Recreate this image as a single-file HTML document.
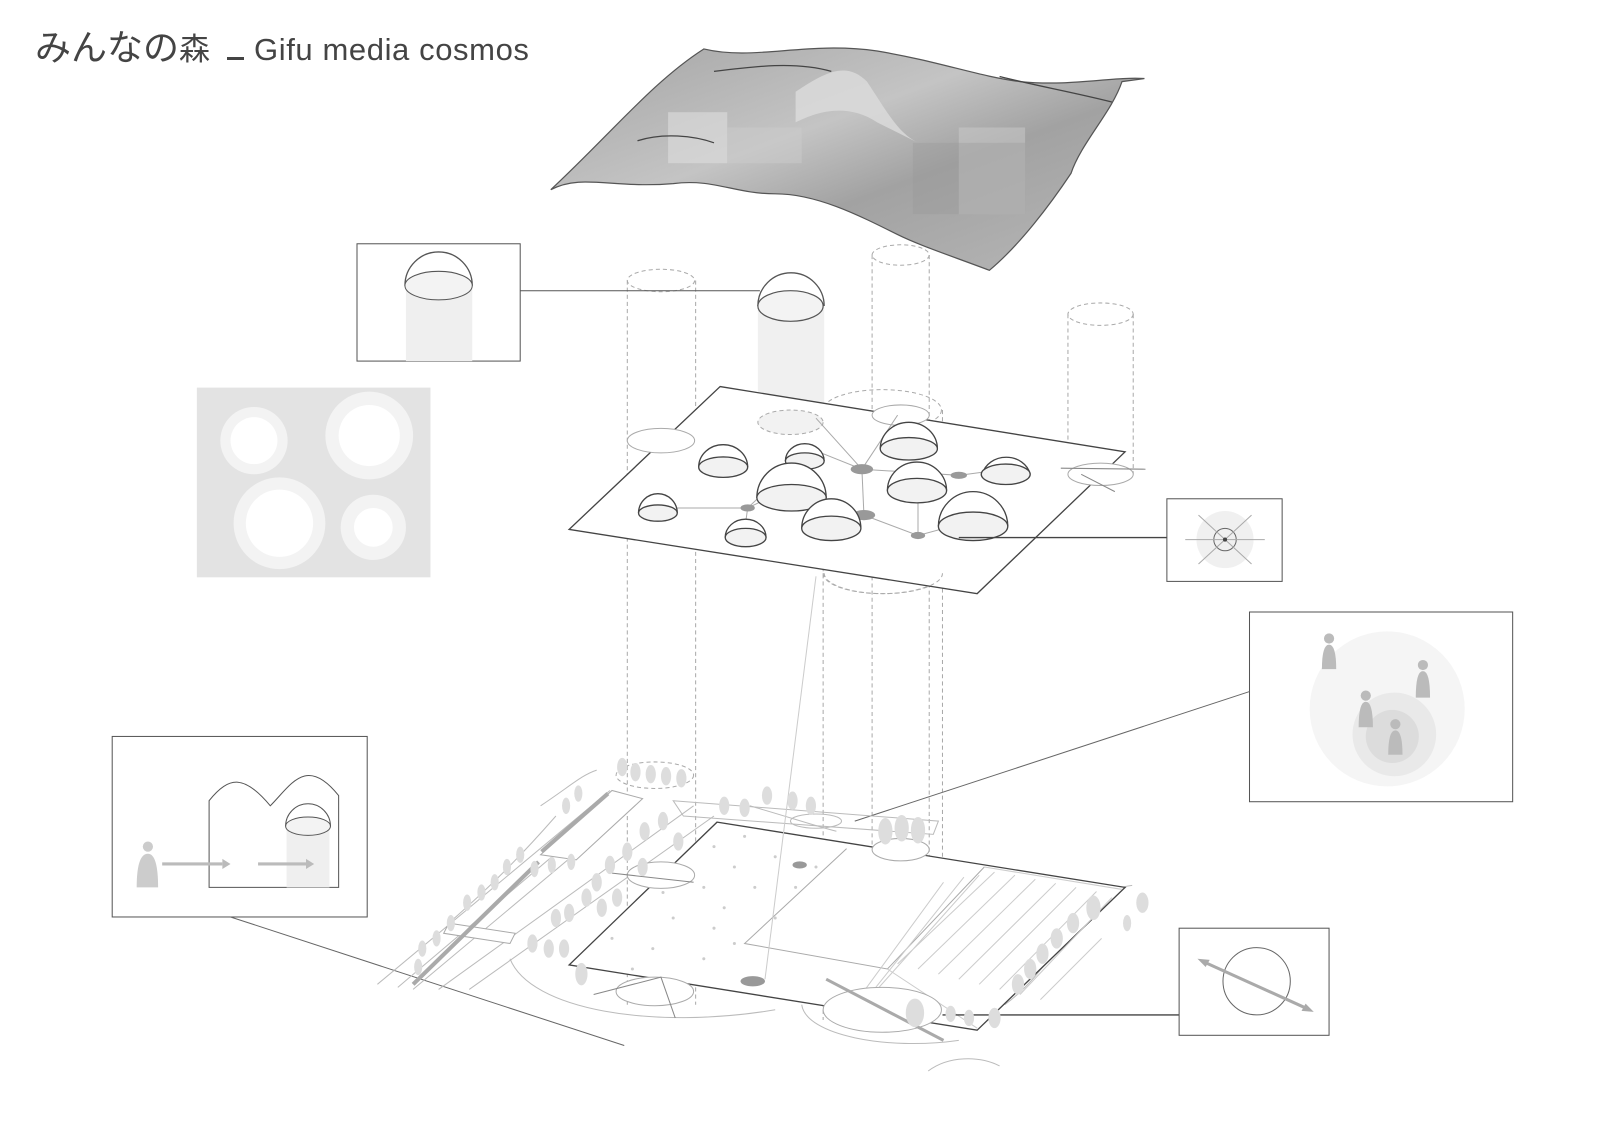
<!DOCTYPE html>
<html><head><meta charset="utf-8"><style>
html,body{margin:0;padding:0;background:#fff;width:1600px;height:1131px;overflow:hidden}
svg{display:block}
</style></head><body>
<svg width="1600" height="1131" viewBox="0 0 1600 1131" xmlns="http://www.w3.org/2000/svg">
<defs>
<linearGradient id="mt" x1="0" y1="0" x2="1" y2="1">
<stop offset="0" stop-color="#a4a4a4"/><stop offset="0.4" stop-color="#c4c4c4"/><stop offset="0.6" stop-color="#a2a2a2"/><stop offset="1" stop-color="#b8b8b8"/>
</linearGradient>
</defs>
<text x="35" y="60" font-family="'Liberation Sans','Noto Sans CJK JP',sans-serif" fill="#444"><tspan font-size="36">みんなの</tspan><tspan font-size="31">森</tspan></text>
<rect x="227" y="57" width="17" height="3" fill="#444"/>
<text x="254" y="60" font-family="'Liberation Sans',sans-serif" font-size="31" letter-spacing="0.6" fill="#444">Gifu media cosmos</text>
<g transform="scale(1.02)">
<path d="M540 186 C600 130 640 80 690 48 C740 60 790 40 860 50 C920 60 960 75 1000 80 C1050 85 1090 75 1122 77 L1100 80 C1090 110 1060 140 1050 170 C1030 200 1000 240 970 265 C930 250 900 240 880 230 C840 210 800 190 760 190 C720 190 700 175 660 180 C600 185 570 170 540 186 Z" fill="url(#mt)" stroke="#555" stroke-width="1.2"/>
<path d="M780 90 C810 70 830 60 850 80 C870 110 880 130 900 140 L860 120 C830 100 800 110 780 120Z" fill="#dcdcdc" opacity="0.8"/>
<rect x="655" y="110" width="58" height="50" fill="#ddd" opacity="0.6"/>
<rect x="713" y="125" width="73" height="35" fill="#ccc" opacity="0.5"/>
<rect x="940" y="125" width="65" height="85" fill="#ccc" opacity="0.5"/>
<rect x="895" y="140" width="110" height="70" fill="#999" opacity="0.35"/>
<path d="M700 70 C740 65 780 60 815 70 M980 75 C1020 85 1050 90 1090 100 M625 138 C650 130 680 133 700 140" stroke="#444" fill="none" stroke-width="1.2"/>

<g stroke="#aaa" stroke-dasharray="4 3" fill="none" stroke-width="1">
<ellipse cx="648" cy="275" rx="33" ry="11"/><line x1="615" y1="275" x2="615" y2="985"/><line x1="682" y1="275" x2="682" y2="985"/>
<ellipse cx="883" cy="250" rx="28" ry="10"/><line x1="855" y1="250" x2="855" y2="1000"/><line x1="911" y1="250" x2="911" y2="1000"/>
<ellipse cx="1079" cy="308" rx="32" ry="11"/><line x1="1047" y1="308" x2="1047" y2="465"/><line x1="1111" y1="308" x2="1111" y2="465"/>
<ellipse cx="865" cy="402" rx="58" ry="20"/><line x1="807" y1="402" x2="807" y2="1000"/><line x1="924" y1="402" x2="924" y2="1000"/>
<ellipse cx="865" cy="562" rx="58" ry="20"/>
<ellipse cx="642" cy="760" rx="38" ry="13"/>
<ellipse cx="775" cy="395" rx="32" ry="12"/>
</g>

<rect x="743" y="297" width="65" height="125" fill="#f0f0f0"/>
<path d="M743 300 A32 32 0 0 1 808 300" fill="#fff" stroke="#555" stroke-width="1.3"/>
<ellipse cx="775" cy="300" rx="32" ry="15" fill="#f3f3f3" stroke="#555" stroke-width="1.2"/>
<line x1="510" y1="285" x2="745" y2="285" stroke="#555"/>

<rect x="350" y="239" width="160" height="115" fill="#fff" stroke="#555"/>
<rect x="398" y="282" width="65" height="72" fill="#efefef"/>
<path d="M397 280 A33 33 0 0 1 463 280" fill="#fff" stroke="#555" stroke-width="1.3"/>
<ellipse cx="430" cy="280" rx="33" ry="14" fill="#f3f3f3" stroke="#555"/>

<rect x="193" y="380" width="229" height="186" fill="#e3e3e3"/>
<circle cx="249" cy="432" r="33" fill="#f3f3f3"/><circle cx="249" cy="432" r="23" fill="#fff"/>
<circle cx="362" cy="427" r="43" fill="#f3f3f3"/><circle cx="362" cy="427" r="30" fill="#fff"/>
<circle cx="274" cy="513" r="45" fill="#f3f3f3"/><circle cx="274" cy="513" r="33" fill="#fff"/>
<circle cx="366" cy="517" r="32" fill="#f3f3f3"/><circle cx="366" cy="517" r="19" fill="#fff"/>

<path d="M706 379 L1103 443 L958 582 L558 519 Z" fill="#fff" stroke="#444" stroke-width="1.3"/>
<ellipse cx="648" cy="432" rx="33" ry="12" fill="#fff" stroke="#aaa"/>
<ellipse cx="883" cy="407" rx="28" ry="10" fill="#fff" stroke="#aaa"/>
<ellipse cx="1079" cy="465" rx="32" ry="11" fill="#fff" stroke="#aaa"/>
<line x1="1040" y1="459" x2="1123" y2="460" stroke="#888"/><line x1="1060" y1="465" x2="1093" y2="482" stroke="#888"/>
<path d="M808 562 A58 20 0 0 0 924 562" fill="none" stroke="#aaa" stroke-dasharray="4 3"/>
<ellipse cx="775" cy="414" rx="32" ry="12" fill="#f2f2f2" stroke="#aaa" stroke-dasharray="4 3"/>
<g stroke="#aaa" fill="none">
<path d="M645 498 L733 498 L795 440 L845 460 L940 466 M733 498 L775 478 M733 498 L730 520 M845 460 L847 505 L900 525 L955 510 M845 460 L800 410 M845 460 L880 407 M940 466 L985 460 M847 505 L815 510 M900 525 L900 480"/>
</g>
<g fill="#999">
<ellipse cx="845" cy="460" rx="11" ry="5"/><ellipse cx="847" cy="505" rx="11" ry="5"/><ellipse cx="733" cy="498" rx="7" ry="3.5"/><ellipse cx="940" cy="466" rx="8" ry="3.5"/><ellipse cx="900" cy="525" rx="7" ry="3.5"/><ellipse cx="793" cy="440" rx="8" ry="3.5"/>
</g>
<g stroke="#444" stroke-width="1.3" fill="#fff">
<path d="M685 458 A24 22 0 0 1 733 458"/><ellipse cx="709" cy="458" rx="24" ry="10" fill="#f2f2f2"/>
<path d="M770 452 A19 17 0 0 1 808 452"/><ellipse cx="789" cy="452" rx="19" ry="8" fill="#f2f2f2"/>
<path d="M742 488 A34 34 0 0 1 810 488"/><ellipse cx="776" cy="488" rx="34" ry="13" fill="#f2f2f2"/>
<path d="M863 440 A28 26 0 0 1 919 440"/><ellipse cx="891" cy="440" rx="28" ry="11" fill="#f2f2f2"/>
<path d="M870 481 A29 28 0 0 1 928 481"/><ellipse cx="899" cy="481" rx="29" ry="12" fill="#f2f2f2"/>
<path d="M963 465 A24 21 0 0 1 1010 465"/><ellipse cx="986" cy="465" rx="24" ry="10" fill="#f2f2f2"/>
<path d="M626 503 A19 19 0 0 1 664 503"/><ellipse cx="645" cy="503" rx="19" ry="8" fill="#f2f2f2"/>
<path d="M786 518 A29 29 0 0 1 844 518"/><ellipse cx="815" cy="518" rx="29" ry="12" fill="#f2f2f2"/>
<path d="M711 527 A20 18 0 0 1 751 527"/><ellipse cx="731" cy="527" rx="20" ry="9" fill="#f2f2f2"/>
<path d="M920 516 A34 34 0 0 1 988 516"/><ellipse cx="954" cy="516" rx="34" ry="14" fill="#f2f2f2"/>
</g>
<line x1="940" y1="527" x2="1144" y2="527" stroke="#444" stroke-width="1.3"/>

<rect x="1144" y="489" width="113" height="81" fill="#fff" stroke="#555"/>
<circle cx="1201" cy="529" r="28" fill="#f0f0f0"/>
<circle cx="1201" cy="529" r="11" fill="none" stroke="#666"/>
<g stroke="#aaa"><line x1="1162" y1="529" x2="1240" y2="529"/><line x1="1175" y1="505" x2="1227" y2="553"/><line x1="1227" y1="505" x2="1175" y2="553"/></g>
<circle cx="1201" cy="529" r="2" fill="#444"/>

<rect x="1225" y="600" width="258" height="186" fill="#fff" stroke="#555"/>
<circle cx="1360" cy="695" r="76" fill="#f5f5f5"/>
<circle cx="1367" cy="720" r="41" fill="#e9e9e9"/>
<circle cx="1365" cy="722" r="26" fill="#dcdcdc"/>
<g fill="#bbb">
<circle cx="1303" cy="626" r="5"/><path d="M1296 656 Q1296 632 1303 632 Q1310 632 1310 656Z"/>
<circle cx="1395" cy="652" r="5"/><path d="M1388 684 Q1388 658 1395 658 Q1402 658 1402 684Z"/>
<circle cx="1339" cy="682" r="5"/><path d="M1332 713 Q1332 688 1339 688 Q1346 688 1346 713Z"/>
<circle cx="1368" cy="710" r="5"/><path d="M1361 740 Q1361 716 1368 716 Q1375 716 1375 740Z"/>
</g>
<line x1="1225" y1="678" x2="838" y2="805" stroke="#666"/>

<rect x="110" y="722" width="250" height="177" fill="#fff" stroke="#555"/>
<path d="M205 870 L205 785 C225 760 240 760 265 790 C285 770 300 740 332 780 L332 870 Z" fill="#fff" stroke="#555"/>
<rect x="281" y="810" width="42" height="60" fill="#efefef"/>
<path d="M280 810 A22 22 0 0 1 324 810" fill="#fff" stroke="#555"/>
<ellipse cx="302" cy="810" rx="22" ry="9" fill="#f3f3f3" stroke="#555"/>
<circle cx="145" cy="830" r="5" fill="#ccc"/><path d="M134 870 Q134 837 145 837 Q155 837 155 870Z" fill="#ccc"/>
<g stroke="#bbb" stroke-width="3"><line x1="159" y1="847" x2="218" y2="847"/><line x1="253" y1="847" x2="300" y2="847"/></g>
<path d="M218 842 L226 847 L218 852Z M300 842 L308 847 L300 852Z" fill="#bbb"/>
<line x1="226" y1="899" x2="612" y2="1025" stroke="#666"/>

<g stroke="#bbb" fill="none">
<path d="M370 965 L598 775 M390 968 L600 790 M405 970 L620 790 M430 970 L680 790 M460 970 L700 800"/>
<path d="M530 790 C560 770 570 760 585 755 M545 800 C510 840 480 870 440 905"/>
<path d="M660 785 L920 805 L915 818 L670 800Z"/>
<path d="M500 940 C520 990 640 1010 760 990"/>
<path d="M786 985 C790 1015 870 1030 940 1020"/>
<path d="M910 1050 C930 1035 960 1035 980 1045"/>
<path d="M985 985 C1020 960 1040 920 1060 900 C1080 880 1090 870 1110 868"/>
<path d="M735 790 C770 800 800 810 820 815"/>
<ellipse cx="800" cy="805" rx="25" ry="7"/>
</g>
<path d="M440 905 L505 915 L500 925 L435 915Z" fill="#fff" stroke="#aaa"/>
<path d="M530 838 L600 775 L630 783 L565 843Z" fill="#fff" stroke="#aaa"/>
<g stroke="#aaa" stroke-width="4"><line x1="405" y1="965" x2="528" y2="845"/><line x1="531" y1="835" x2="596" y2="778"/></g>
<path d="M703 806 L1103 870 L958 1010 L558 946 Z" fill="#fff" stroke="#444" stroke-width="1.3"/>
<path d="M830 832 L730 925 L870 950 L965 850" fill="none" stroke="#aaa"/>
<g stroke="#ccc"><path d="M965 850 L1100 872 M870 950 L958 1008"/>
<path d="M880 945 L975 855 M900 950 L995 858 M920 955 L1015 862 M940 960 L1035 866 M960 965 L1055 870 M980 970 L1075 874 M1000 975 L1090 880 M1020 980 L1080 920 M860 970 L960 858 M845 985 L945 860 M830 995 L925 865"/></g>
<g fill="#ccc">
<circle cx="700" cy="830" r="1.5"/><circle cx="720" cy="850" r="1.5"/><circle cx="690" cy="870" r="1.5"/><circle cx="740" cy="870" r="1.5"/><circle cx="710" cy="890" r="1.5"/><circle cx="760" cy="840" r="1.5"/><circle cx="660" cy="900" r="1.5"/><circle cx="700" cy="910" r="1.5"/><circle cx="640" cy="930" r="1.5"/><circle cx="690" cy="940" r="1.5"/><circle cx="620" cy="950" r="1.5"/><circle cx="780" cy="870" r="1.5"/><circle cx="800" cy="850" r="1.5"/><circle cx="730" cy="820" r="1.5"/><circle cx="650" cy="875" r="1.5"/><circle cx="600" cy="920" r="1.5"/><circle cx="760" cy="900" r="1.5"/><circle cx="720" cy="925" r="1.5"/>
</g>
<ellipse cx="738" cy="962" rx="12" ry="5" fill="#999"/>
<ellipse cx="784" cy="848" rx="7" ry="3.5" fill="#999"/>
<line x1="800" y1="565" x2="750" y2="960" stroke="#ccc"/>
<ellipse cx="648" cy="858" rx="33" ry="13" fill="#fff" stroke="#aaa"/>
<line x1="600" y1="856" x2="680" y2="865" stroke="#888"/>
<ellipse cx="883" cy="833" rx="28" ry="11" fill="#fff" stroke="#aaa"/>
<ellipse cx="642" cy="972" rx="38" ry="14" fill="#fff" stroke="#aaa"/>
<path d="M582 975 L648 958 L662 998" fill="none" stroke="#888"/>
<ellipse cx="865" cy="990" rx="58" ry="22" fill="#fff" stroke="#aaa"/>
<line x1="810" y1="960" x2="925" y2="1020" stroke="#aaa" stroke-width="3"/>
<line x1="924" y1="995" x2="1156" y2="995" stroke="#444" stroke-width="1.3"/>
<g fill="#ddd">
<ellipse cx="610" cy="752" rx="5" ry="9"/><ellipse cx="623" cy="757" rx="5" ry="9"/><ellipse cx="638" cy="759" rx="5" ry="9"/><ellipse cx="653" cy="761" rx="5" ry="9"/><ellipse cx="668" cy="763" rx="5" ry="9"/>
<ellipse cx="710" cy="790" rx="5" ry="9"/><ellipse cx="730" cy="792" rx="5" ry="9"/><ellipse cx="752" cy="780" rx="5" ry="9"/><ellipse cx="777" cy="785" rx="5" ry="9"/><ellipse cx="795" cy="790" rx="5" ry="9"/>
<ellipse cx="868" cy="815" rx="7" ry="13"/><ellipse cx="884" cy="812" rx="7" ry="13"/><ellipse cx="900" cy="814" rx="7" ry="13"/>
<ellipse cx="1072" cy="890" rx="7" ry="12"/><ellipse cx="1052" cy="905" rx="6" ry="10"/><ellipse cx="1036" cy="920" rx="6" ry="10"/><ellipse cx="1022" cy="935" rx="6" ry="10"/><ellipse cx="1010" cy="950" rx="6" ry="10"/><ellipse cx="998" cy="965" rx="6" ry="10"/><ellipse cx="975" cy="998" rx="6" ry="10"/><ellipse cx="950" cy="998" rx="5" ry="8"/><ellipse cx="932" cy="994" rx="5" ry="8"/><ellipse cx="897" cy="993" rx="9" ry="14"/><ellipse cx="1120" cy="885" rx="6" ry="10"/><ellipse cx="1105" cy="905" rx="4" ry="8"/>
<ellipse cx="570" cy="955" rx="6" ry="11"/><ellipse cx="553" cy="930" rx="5" ry="9"/><ellipse cx="538" cy="930" rx="5" ry="9"/><ellipse cx="522" cy="925" rx="5" ry="9"/><ellipse cx="545" cy="900" rx="5" ry="9"/><ellipse cx="558" cy="895" rx="5" ry="9"/><ellipse cx="575" cy="880" rx="5" ry="9"/><ellipse cx="590" cy="890" rx="5" ry="9"/><ellipse cx="605" cy="880" rx="5" ry="9"/><ellipse cx="585" cy="865" rx="5" ry="9"/><ellipse cx="598" cy="848" rx="5" ry="9"/><ellipse cx="615" cy="835" rx="5" ry="9"/><ellipse cx="632" cy="815" rx="5" ry="9"/><ellipse cx="650" cy="805" rx="5" ry="9"/><ellipse cx="665" cy="825" rx="5" ry="9"/><ellipse cx="630" cy="850" rx="5" ry="9"/>
<ellipse cx="560" cy="845" rx="4" ry="8"/><ellipse cx="541" cy="848" rx="4" ry="8"/><ellipse cx="524" cy="852" rx="4" ry="8"/><ellipse cx="510" cy="838" rx="4" ry="8"/><ellipse cx="497" cy="850" rx="4" ry="8"/><ellipse cx="485" cy="865" rx="4" ry="8"/><ellipse cx="472" cy="875" rx="4" ry="8"/><ellipse cx="458" cy="885" rx="4" ry="8"/><ellipse cx="442" cy="905" rx="4" ry="8"/><ellipse cx="428" cy="920" rx="4" ry="8"/><ellipse cx="414" cy="930" rx="4" ry="8"/><ellipse cx="410" cy="948" rx="4" ry="8"/><ellipse cx="567" cy="778" rx="4" ry="8"/><ellipse cx="555" cy="790" rx="4" ry="8"/>
</g>

<rect x="1156" y="910" width="147" height="105" fill="#fff" stroke="#555"/>
<circle cx="1232" cy="962" r="33" fill="none" stroke="#666"/>
<line x1="1178" y1="942" x2="1284" y2="990" stroke="#aaa" stroke-width="3"/>
<path d="M1174 940 L1186 941 L1182 948Z M1288 992 L1276 991 L1280 984Z" fill="#aaa"/>
</g>
</svg>
</body></html>
